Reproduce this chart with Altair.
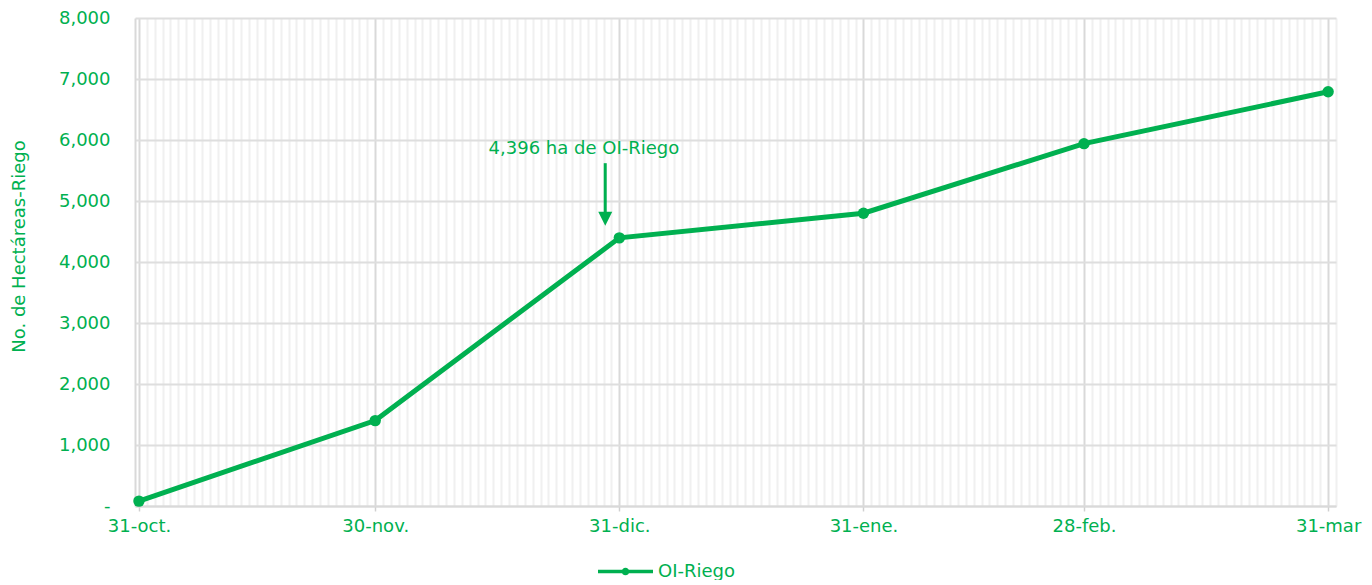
import json
import altair as alt
import pandas as pd

# ---- data ----
FECHAS = ["2022-10-31", "2022-11-30", "2022-12-31", "2023-01-31", "2023-02-28", "2023-03-31"]
VALORES = [80, 1400, 4396, 4800, 5940, 6790]
SERIE = ["OI-Riego"] * len(FECHAS)

MESES = ["ene.", "feb.", "mar\u00a0", "abr.", "may.", "jun.", "jul.", "ago.", "sep.", "oct.", "nov.", "dic."]
Y_TICKS = [0, 1000, 2000, 3000, 4000, 5000, 6000, 7000, 8000]

ANOT_TEXTO = ["4,396 ha de OI-Riego"]
ANOT_TEXTO_FECHA = ["2022-12-26T12:00:00Z"]
ANOT_TEXTO_VALOR = [5850]
FLECHA_FECHA = ["2022-12-29T05:00:00Z"]
FLECHA_INICIO = [5620]
FLECHA_FIN = [4780]
PUNTA_VALOR = [4710]

GREEN = "#00B050"
FONT = "DejaVu Sans"
FS = 18

df = pd.DataFrame({"fecha": FECHAS, "valor": VALORES, "serie": SERIE})
df_txt = pd.DataFrame({"fecha": ANOT_TEXTO_FECHA, "valor": ANOT_TEXTO_VALOR, "texto": ANOT_TEXTO})
df_arrow = pd.DataFrame({"fecha": FLECHA_FECHA, "valor": FLECHA_INICIO, "valor2": FLECHA_FIN})
df_head = pd.DataFrame({"fecha": FLECHA_FECHA, "valor": PUNTA_VALOR})

month_end = "utcdate(time(datum.value) + 86400000) == 1"
x_label_expr = (
    f"{month_end} ? (utcdate(time(datum.value)) + '-' + {json.dumps(MESES)}[utcmonth(time(datum.value))]) : ''"
)

x_enc = alt.X(
    "fecha:T",
    scale=alt.Scale(
        type="utc",
        domain=[
            alt.DateTime(year=2022, month=10, date=30, hours=12, utc=True),
            alt.DateTime(year=2023, month=4, date=1, hours=0, utc=True),
        ],
        nice=False,
    ),
    axis=alt.Axis(
        title=None,
        tickCount={"interval": "day", "step": 1},
        labelExpr=x_label_expr,
        labelOverlap=False,
        labelFlush=False,
        labelFont=FONT,
        labelFontSize=FS,
        labelColor=GREEN,
        labelPadding=6,
        tickSize=5,
        tickWidth=1.5,
        tickColor={"condition": {"test": month_end, "value": "#d0d0d0"}, "value": "transparent"},
        grid=True,
        gridColor={"condition": {"test": month_end, "value": "#d9d9d9"}, "value": "#f0f0f0"},
        gridWidth=2,
        domainColor="#d9d9d9",
        domainWidth=2,
    ),
)

y_enc = alt.Y(
    "valor:Q",
    scale=alt.Scale(domain=[0, 8000], nice=False),
    axis=alt.Axis(
        title="No. de Hectáreas-Riego",
        titleFont=FONT,
        titleFontSize=FS,
        titleFontWeight="normal",
        titleColor=GREEN,
        titlePadding=30,
        titleY=228,
        values=Y_TICKS,
        labelExpr="datum.value == 0 ? '-\u00a0\u00a0' : format(datum.value, ',')",
        labelFont=FONT,
        labelFontSize=FS,
        labelColor=GREEN,
        labelPadding=25,
        ticks=False,
        grid=True,
        gridColor="#dedede",
        gridWidth=2,
        domainColor="#d9d9d9",
        domainWidth=2,
    ),
)

legend_path = (
    "M -1 -0.06 L 1 -0.06 L 1 0.06 L -1 0.06 Z "
    "M 0.14 0 A 0.14 0.14 0 1 1 -0.14 0 A 0.14 0.14 0 1 1 0.14 0 Z"
)

line = alt.Chart(df).mark_line(color=GREEN, strokeWidth=5).encode(x=x_enc, y=y_enc)

points = alt.Chart(df).mark_point(filled=True, size=130, opacity=1).encode(
    x=x_enc,
    y=y_enc,
    color=alt.Color(
        "serie:N",
        scale=alt.Scale(domain=["OI-Riego"], range=[GREEN]),
        legend=alt.Legend(
            title=None,
            orient="none",
            legendX=463,
            legendY=526,
            symbolType=legend_path,
            symbolSize=3025,
            symbolFillColor=GREEN,
            symbolStrokeWidth=0,
            symbolOpacity=1,
            labelFont=FONT,
            labelFontSize=FS,
            labelColor=GREEN,
            labelOffset=5,
            padding=0,
        ),
    ),
)

shaft = alt.Chart(df_arrow).mark_rule(color=GREEN, strokeWidth=3).encode(
    x=x_enc, y=y_enc, y2="valor2:Q"
)

head = alt.Chart(df_head).mark_point(
    shape="M -1 -1 L 1 -1 L 0 1 Z", filled=True, size=196, color=GREEN, opacity=1
).encode(x=x_enc, y=y_enc)

text = alt.Chart(df_txt).mark_text(
    font=FONT, fontSize=FS, color=GREEN, align="center", baseline="middle"
).encode(x=x_enc, y=y_enc, text="texto:N")

chart = (
    alt.layer(line, points, shaft, head, text)
    .properties(
        width=1201,
        height=488,
        autosize=alt.AutoSizeParams(type="none"),
        padding={"left": 127, "top": 10, "right": 27, "bottom": 74},
        background="white",
    )
    .configure_view(stroke=None)
)

chart.save("out.html", embed_options={"renderer": "svg", "actions": False})
